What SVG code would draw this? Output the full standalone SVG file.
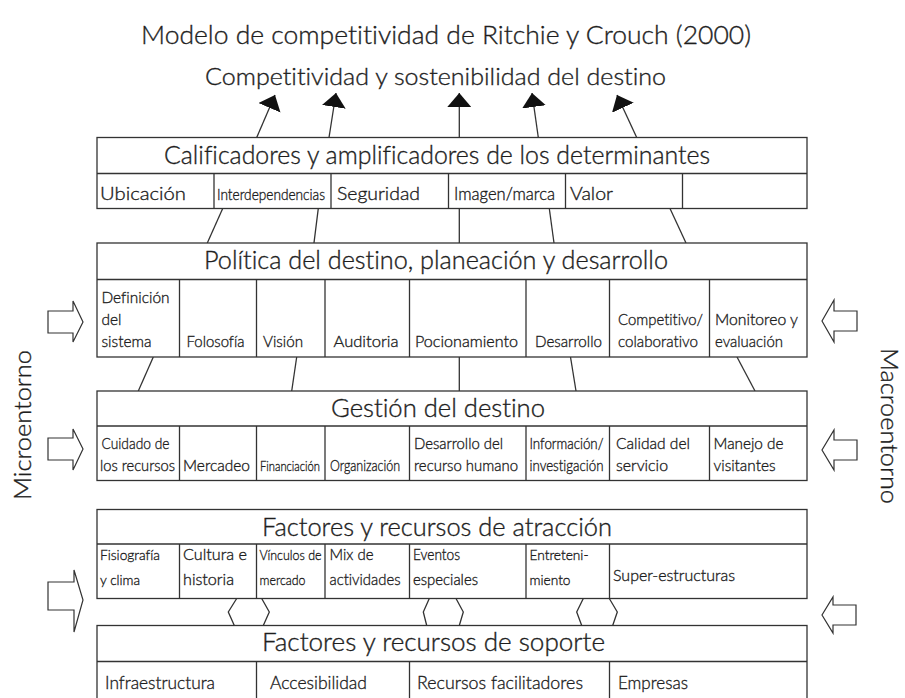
<svg xmlns="http://www.w3.org/2000/svg" width="905" height="698" viewBox="0 0 905 698">
  <style>
    .t { font-family: Lato, "Open Sans", "Liberation Sans", sans-serif; font-weight: 300; fill: #1e1e1e; stroke: #1e1e1e; stroke-width: 0.35; font-variant-ligatures: none; }
    .hd { font-size: 25px; }
    .c { font-size: 16px; }
    .cl { font-size: 18px; }
    .box { fill: #fff; stroke: #333; stroke-width: 1.3; }
    .ln { stroke: #333; stroke-width: 1.3; fill: none; }
    .hollow { fill: #fff; stroke: #333; stroke-width: 1.2; stroke-linejoin: miter; }
  </style>
  <defs>
    <marker id="ah" viewBox="0 0 14 24" refX="14" refY="12" markerWidth="14" markerHeight="24" markerUnits="userSpaceOnUse" orient="auto">
      <path d="M0,0 L14,12 L0,24 z" fill="#111"/>
    </marker>
  </defs>
  <rect width="905" height="698" fill="#fff"/>

  <text class="t" font-size="26" x="141" y="44" textLength="610" lengthAdjust="spacingAndGlyphs">Modelo de competitividad de Ritchie y Crouch (2000)</text>
  <text class="t" font-size="23.5" x="205" y="85" textLength="461" lengthAdjust="spacingAndGlyphs">Competitividad y sostenibilidad del destino</text>

  <g id="connectors">
    <line class="ln" x1="256.7" y1="137.5" x2="275" y2="95" marker-end="url(#ah)"/>
    <line class="ln" x1="329" y1="137.5" x2="336" y2="93" marker-end="url(#ah)"/>
    <line class="ln" x1="459.3" y1="137.5" x2="459.3" y2="93" marker-end="url(#ah)"/>
    <line class="ln" x1="538.3" y1="137.5" x2="532" y2="93" marker-end="url(#ah)"/>
    <line class="ln" x1="636.7" y1="137.5" x2="617" y2="95" marker-end="url(#ah)"/>

    <line class="ln" x1="222.7" y1="208.5" x2="207.3" y2="243"/>
    <line class="ln" x1="318.3" y1="208.5" x2="314" y2="243"/>
    <line class="ln" x1="459.3" y1="208.5" x2="459.3" y2="243"/>
    <line class="ln" x1="549.3" y1="208.5" x2="554" y2="243"/>
    <line class="ln" x1="670" y1="208.5" x2="686" y2="243"/>

    <line class="ln" x1="153.3" y1="357" x2="138.3" y2="391"/>
    <line class="ln" x1="296.7" y1="357" x2="291.7" y2="391"/>
    <line class="ln" x1="459.3" y1="357" x2="459.3" y2="391"/>
    <line class="ln" x1="570.5" y1="357" x2="576" y2="391"/>
    <line class="ln" x1="737" y1="357" x2="755" y2="391"/>

    <polyline class="ln" points="236.7,598.5 228.3,612 234.3,625.5"/>
    <polyline class="ln" points="261.7,598.5 269.3,612 263.3,625.5"/>
    <polyline class="ln" points="429.3,598.5 423.3,612 426.7,625.5"/>
    <polyline class="ln" points="456,598.5 463.3,612 459.3,625.5"/>
    <polyline class="ln" points="583.3,598.5 576.7,612 581.7,625.5"/>
    <polyline class="ln" points="609.3,598.5 617.3,612 612.7,625.5"/>
  </g>

  <g id="environment-arrows">
    <path class="hollow" d="M48,311 L73,311 L73,301 L83,322 L73,342 L73,333 L48,333 Z"/>
    <path class="hollow" d="M48,438 L73,438 L73,429 L83,449 L73,470 L73,460 L48,460 Z"/>
    <path class="hollow" d="M48,582 L74,582 L74,570 L83,600 L74,632 L74,610 L48,610 Z"/>
    <path class="hollow" d="M857,311 L834,311 L834,300 L822,321 L834,342 L834,331 L857,331 Z"/>
    <path class="hollow" d="M857,440 L834,440 L834,430 L822,450 L834,470 L834,460 L857,460 Z"/>
    <path class="hollow" d="M856,605 L833,605 L833,597 L822,615 L833,633 L833,625 L856,625 Z"/>
  </g>

  <text class="t" font-size="24" transform="translate(31,500) rotate(-90)" textLength="150" lengthAdjust="spacingAndGlyphs">Microentorno</text>
  <text class="t" font-size="24" transform="translate(881,348) rotate(90)" textLength="156" lengthAdjust="spacingAndGlyphs">Macroentorno</text>

  <g id="calificadores">
    <rect class="box" x="97" y="137.5" width="710" height="71"/>
    <line class="ln" x1="97" y1="173.5" x2="807" y2="173.5"/>
    <line class="ln" x1="214" y1="173.5" x2="214" y2="208.5"/>
    <line class="ln" x1="331" y1="173.5" x2="331" y2="208.5"/>
    <line class="ln" x1="448.5" y1="173.5" x2="448.5" y2="208.5"/>
    <line class="ln" x1="565.5" y1="173.5" x2="565.5" y2="208.5"/>
    <line class="ln" x1="682.5" y1="173.5" x2="682.5" y2="208.5"/>
    <text class="t hd" x="164" y="163.5" textLength="546" lengthAdjust="spacingAndGlyphs">Calificadores y amplificadores de los determinantes</text>
    <text class="t cl" x="100" y="200" textLength="86" lengthAdjust="spacingAndGlyphs">Ubicación</text>
    <text class="t" font-size="15" x="217" y="200" textLength="108" lengthAdjust="spacingAndGlyphs">Interdependencias</text>
    <text class="t cl" x="337" y="200" textLength="83" lengthAdjust="spacingAndGlyphs">Seguridad</text>
    <text class="t" font-size="17" x="454" y="200" textLength="101" lengthAdjust="spacingAndGlyphs">Imagen/marca</text>
    <text class="t cl" x="570" y="200" textLength="43" lengthAdjust="spacingAndGlyphs">Valor</text>
  </g>

  <g id="politica">
    <rect class="box" x="97" y="243" width="710" height="114"/>
    <line class="ln" x1="97" y1="279.5" x2="807" y2="279.5"/>
    <line class="ln" x1="179.5" y1="279.5" x2="179.5" y2="357"/>
    <line class="ln" x1="256.5" y1="279.5" x2="256.5" y2="357"/>
    <line class="ln" x1="325" y1="279.5" x2="325" y2="357"/>
    <line class="ln" x1="409.5" y1="279.5" x2="409.5" y2="357"/>
    <line class="ln" x1="526" y1="279.5" x2="526" y2="357"/>
    <line class="ln" x1="609.5" y1="279.5" x2="609.5" y2="357"/>
    <line class="ln" x1="709.5" y1="279.5" x2="709.5" y2="357"/>
    <text class="t hd" x="204" y="268.5" textLength="464" lengthAdjust="spacingAndGlyphs">Política del destino, planeación y desarrollo</text>
    <text class="t c" x="101.5" y="303" textLength="68" lengthAdjust="spacingAndGlyphs">Definición</text>
    <text class="t c" x="101.5" y="325" textLength="20" lengthAdjust="spacingAndGlyphs">del</text>
    <text class="t c" x="101.5" y="347" textLength="50" lengthAdjust="spacingAndGlyphs">sistema</text>
    <text class="t c" x="186.5" y="347" textLength="58" lengthAdjust="spacingAndGlyphs">Folosofía</text>
    <text class="t c" x="263" y="347" textLength="40" lengthAdjust="spacingAndGlyphs">Visión</text>
    <text class="t c" x="333.5" y="347" textLength="65" lengthAdjust="spacingAndGlyphs">Auditoria</text>
    <text class="t c" x="415" y="347" textLength="103" lengthAdjust="spacingAndGlyphs">Pocionamiento</text>
    <text class="t c" x="535" y="347" textLength="67" lengthAdjust="spacingAndGlyphs">Desarrollo</text>
    <text class="t c" x="618" y="325" textLength="85" lengthAdjust="spacingAndGlyphs">Competitivo/</text>
    <text class="t c" x="618" y="347" textLength="80" lengthAdjust="spacingAndGlyphs">colaborativo</text>
    <text class="t c" x="715" y="325" textLength="83" lengthAdjust="spacingAndGlyphs">Monitoreo y</text>
    <text class="t c" x="715" y="347" textLength="68" lengthAdjust="spacingAndGlyphs">evaluación</text>
  </g>

  <g id="gestion">
    <rect class="box" x="97" y="391" width="710" height="89.5"/>
    <line class="ln" x1="97" y1="426" x2="807" y2="426"/>
    <line class="ln" x1="179.5" y1="426" x2="179.5" y2="480.5"/>
    <line class="ln" x1="256.5" y1="426" x2="256.5" y2="480.5"/>
    <line class="ln" x1="325" y1="426" x2="325" y2="480.5"/>
    <line class="ln" x1="409.5" y1="426" x2="409.5" y2="480.5"/>
    <line class="ln" x1="526" y1="426" x2="526" y2="480.5"/>
    <line class="ln" x1="609.5" y1="426" x2="609.5" y2="480.5"/>
    <line class="ln" x1="709.5" y1="426" x2="709.5" y2="480.5"/>
    <text class="t hd" x="331" y="416.5" textLength="214" lengthAdjust="spacingAndGlyphs">Gestión del destino</text>
    <text class="t c" x="101.5" y="448.5" textLength="68" lengthAdjust="spacingAndGlyphs">Cuidado de</text>
    <text class="t c" x="100" y="470.5" textLength="75" lengthAdjust="spacingAndGlyphs">los recursos</text>
    <text class="t c" x="183" y="470.5" textLength="67" lengthAdjust="spacingAndGlyphs">Mercadeo</text>
    <text class="t" font-size="13.5" x="260" y="470.5" textLength="60" lengthAdjust="spacingAndGlyphs">Financiación</text>
    <text class="t" font-size="15" x="330" y="470.5" textLength="70" lengthAdjust="spacingAndGlyphs">Organización</text>
    <text class="t c" x="414" y="448.5" textLength="89" lengthAdjust="spacingAndGlyphs">Desarrollo del</text>
    <text class="t c" x="414" y="470.5" textLength="104" lengthAdjust="spacingAndGlyphs">recurso humano</text>
    <text class="t" font-size="15" x="529.5" y="448.5" textLength="74" lengthAdjust="spacingAndGlyphs">Información/</text>
    <text class="t" font-size="15" x="529.5" y="470.5" textLength="74" lengthAdjust="spacingAndGlyphs">investigación</text>
    <text class="t c" x="616" y="448.5" textLength="74" lengthAdjust="spacingAndGlyphs">Calidad del</text>
    <text class="t c" x="616" y="470.5" textLength="52" lengthAdjust="spacingAndGlyphs">servicio</text>
    <text class="t c" x="713.5" y="448.5" textLength="70" lengthAdjust="spacingAndGlyphs">Manejo de</text>
    <text class="t c" x="713.5" y="470.5" textLength="62" lengthAdjust="spacingAndGlyphs">visitantes</text>
  </g>

  <g id="atraccion">
    <rect class="box" x="97" y="509.5" width="710" height="89"/>
    <line class="ln" x1="97" y1="544" x2="807" y2="544"/>
    <line class="ln" x1="179.5" y1="544" x2="179.5" y2="598.5"/>
    <line class="ln" x1="256.5" y1="544" x2="256.5" y2="598.5"/>
    <line class="ln" x1="325" y1="544" x2="325" y2="598.5"/>
    <line class="ln" x1="409.5" y1="544" x2="409.5" y2="598.5"/>
    <line class="ln" x1="526" y1="544" x2="526" y2="598.5"/>
    <line class="ln" x1="609.5" y1="544" x2="609.5" y2="598.5"/>
    <text class="t hd" x="262" y="536" textLength="350" lengthAdjust="spacingAndGlyphs">Factores y recursos de atracción</text>
    <text class="t" font-size="14.5" x="100" y="559.5" textLength="60" lengthAdjust="spacingAndGlyphs">Fisiografía</text>
    <text class="t" font-size="14.5" x="100" y="585" textLength="40" lengthAdjust="spacingAndGlyphs">y clima</text>
    <text class="t c" x="183" y="559.5" textLength="64" lengthAdjust="spacingAndGlyphs">Cultura e</text>
    <text class="t c" x="183" y="585" textLength="51" lengthAdjust="spacingAndGlyphs">historia</text>
    <text class="t" font-size="14.5" x="259.5" y="559.5" textLength="62" lengthAdjust="spacingAndGlyphs">Vínculos de</text>
    <text class="t" font-size="14.5" x="259.5" y="585" textLength="46" lengthAdjust="spacingAndGlyphs">mercado</text>
    <text class="t c" x="329.5" y="559.5" textLength="44" lengthAdjust="spacingAndGlyphs">Mix de</text>
    <text class="t c" x="329.5" y="585" textLength="71" lengthAdjust="spacingAndGlyphs">actividades</text>
    <text class="t" font-size="15" x="413" y="559.5" textLength="47" lengthAdjust="spacingAndGlyphs">Eventos</text>
    <text class="t" font-size="15" x="413" y="585" textLength="65" lengthAdjust="spacingAndGlyphs">especiales</text>
    <text class="t" font-size="14.5" x="529.5" y="559.5" textLength="59" lengthAdjust="spacingAndGlyphs">Entreteni-</text>
    <text class="t" font-size="14.5" x="529.5" y="585" textLength="41" lengthAdjust="spacingAndGlyphs">miento</text>
    <text class="t c" x="613" y="581" textLength="122" lengthAdjust="spacingAndGlyphs">Super-estructuras</text>
  </g>

  <g id="soporte">
    <rect class="box" x="97" y="625.5" width="710" height="80"/>
    <line class="ln" x1="97" y1="661.5" x2="807" y2="661.5"/>
    <line class="ln" x1="256.5" y1="661.5" x2="256.5" y2="698"/>
    <line class="ln" x1="409.5" y1="661.5" x2="409.5" y2="698"/>
    <line class="ln" x1="609.5" y1="661.5" x2="609.5" y2="698"/>
    <text class="t hd" x="262" y="651" textLength="343" lengthAdjust="spacingAndGlyphs">Factores y recursos de soporte</text>
    <text class="t cl" x="105" y="689" textLength="110" lengthAdjust="spacingAndGlyphs">Infraestructura</text>
    <text class="t cl" x="270" y="689" textLength="97" lengthAdjust="spacingAndGlyphs">Accesibilidad</text>
    <text class="t cl" x="417" y="689" textLength="166" lengthAdjust="spacingAndGlyphs">Recursos facilitadores</text>
    <text class="t cl" x="618" y="689" textLength="70" lengthAdjust="spacingAndGlyphs">Empresas</text>
  </g>
</svg>
